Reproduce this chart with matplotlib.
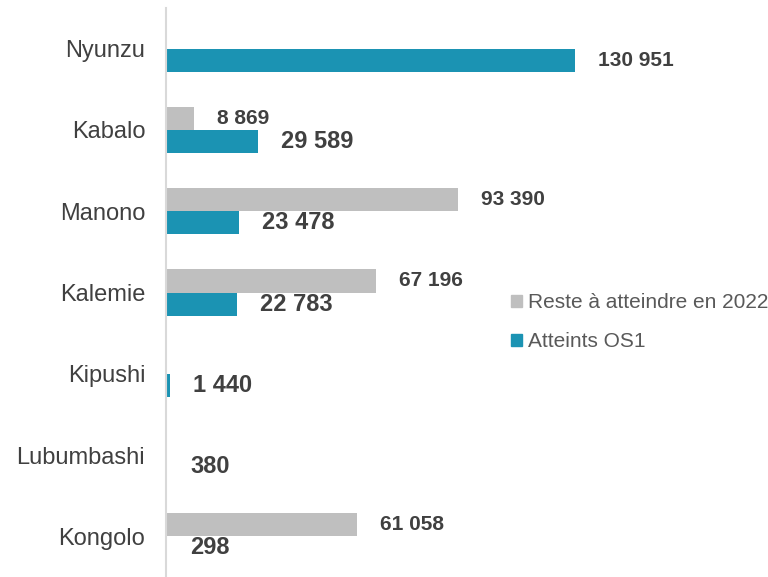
import matplotlib
matplotlib.use("Agg")
import matplotlib.pyplot as plt
from matplotlib.patches import Patch
import numpy as np

plt.rcParams['font.family'] = ['Liberation Sans', 'DejaVu Sans']

territoires = ["Nyunzu", "Kabalo", "Manono", "Kalemie", "Kipushi", "Lubumbashi", "Kongolo"]
reste = [0, 8869, 93390, 67196, 0, 0, 61058]
atteints = [130951, 29589, 23478, 22783, 1440, 380, 298]

GRAY = "#BFBFBF"
TEAL = "#1B93B3"
TXT = "#404040"


def fmt(v):
    return f"{v:,}".replace(",", " ")


fig = plt.figure(figsize=(7.68, 5.77), dpi=100)
ax = fig.add_axes([166 / 768, 0.0, 602 / 768, 1 - 8 / 577])

y = np.arange(len(territoires))
h = 0.283
ax.barh(y - h / 2, reste, height=h, color=GRAY)
ax.barh(y + h / 2, atteints, height=h, color=TEAL)

for yi, r, a in zip(y, reste, atteints):
    if r > 0:
        ax.annotate(fmt(r), (r, yi - h / 2), xytext=(16.5, 0), textcoords="offset points",
                    ha="left", va="center", fontsize=15, fontweight="bold", color=TXT)
    small = a > 100000
    ax.annotate(fmt(a), (a, yi + h / 2), xytext=(16.5, 0),
                textcoords="offset points", ha="left", va="center",
                fontsize=15 if small else 17, fontweight="bold", color=TXT)

ax.set_ylim(len(territoires) - 0.5, -0.5)
ax.set_xlim(0, 602 / (409 / 130951))
ax.set_yticks(y)
ax.set_yticklabels(territoires, fontsize=17, color=TXT)
ax.tick_params(axis="y", length=0, pad=15)
ax.set_xticks([])
for s in ["top", "right", "bottom"]:
    ax.spines[s].set_visible(False)
ax.spines["left"].set_color("#D9D9D9")
ax.spines["left"].set_linewidth(1.5)

handles = [Patch(color=GRAY, label="Reste à atteindre en 2022"),
           Patch(color=TEAL, label="Atteints OS1")]
leg = fig.legend(handles=handles, loc="upper left", bbox_to_anchor=(503 / 768, 1 - 285 / 577),
                 frameon=False, fontsize=15, handlelength=0.5, handleheight=0.5,
                 handletextpad=0.3, labelspacing=0.95, borderaxespad=0)
for t in leg.get_texts():
    t.set_color("#595959")

fig.savefig("out.png", dpi=100)
